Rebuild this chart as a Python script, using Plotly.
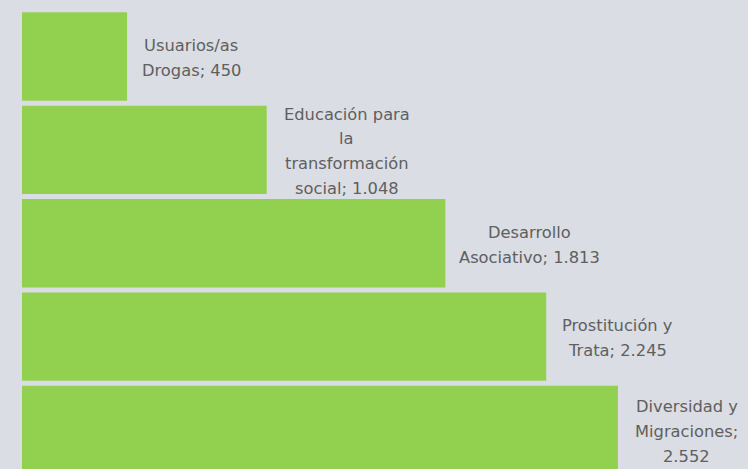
import plotly.graph_objects as go

categories = [
    "Usuarios/as Drogas",
    "Educación para la transformación social",
    "Desarrollo Asociativo",
    "Prostitución y Trata",
    "Diversidad y Migraciones",
]
values = [450, 1048, 1813, 2245, 2552]
# label text lines (category part), value appended to last line
label_lines = [
    ["Usuarios/as", "Drogas; {v}"],
    ["Educación para", "la", "transformación", "social; {v}"],
    ["Desarrollo", "Asociativo; {v}"],
    ["Prostitución y", "Trata; {v}"],
    ["Diversidad y", "Migraciones;", "{v}"],
]

# styling / positional offsets (pixels)
label_center_offset = [64, 80, 84, 71.5, 69]
line_gap = 24.8

BG = "#dadde3"
GREEN = "#92d050"
TXT = "#5f5f5f"


def fmt(v):
    return f"{v:,}".replace(",", ".")


fig = go.Figure(
    go.Bar(
        x=values,
        y=categories,
        orientation="h",
        marker=dict(color=GREEN, line=dict(width=0)),
        hoverinfo="skip",
    )
)

annotations = []
for cat, val, lines, off in zip(categories, values, label_lines, label_center_offset):
    n = len(lines)
    for i, ln in enumerate(lines):
        annotations.append(
            dict(
                x=val,
                y=cat,
                xref="x",
                yref="y",
                text=ln.format(v=fmt(val)),
                showarrow=False,
                xanchor="center",
                yanchor="middle",
                xshift=off,
                yshift=-(i - (n - 1) / 2) * line_gap - 1.5,
                font=dict(family="DejaVu Sans", size=16.3, color=TXT),
            )
        )

fig.update_layout(
    width=748,
    height=469,
    margin=dict(l=22, r=0, t=0, b=0),
    paper_bgcolor=BG,
    plot_bgcolor=BG,
    bargap=0.053,
    showlegend=False,
    annotations=annotations,
    xaxis=dict(range=[0, 3109], visible=False, fixedrange=True),
    yaxis=dict(
        type="category",
        categoryorder="array",
        categoryarray=categories,
        range=[4.418, -0.605],
        visible=False,
        fixedrange=True,
    ),
)

fig.write_html(
    "out.html",
    config={"displayModeBar": False},
    post_script="document.body.style.margin='0';document.body.style.padding='0';document.body.style.overflow='hidden';",
)
